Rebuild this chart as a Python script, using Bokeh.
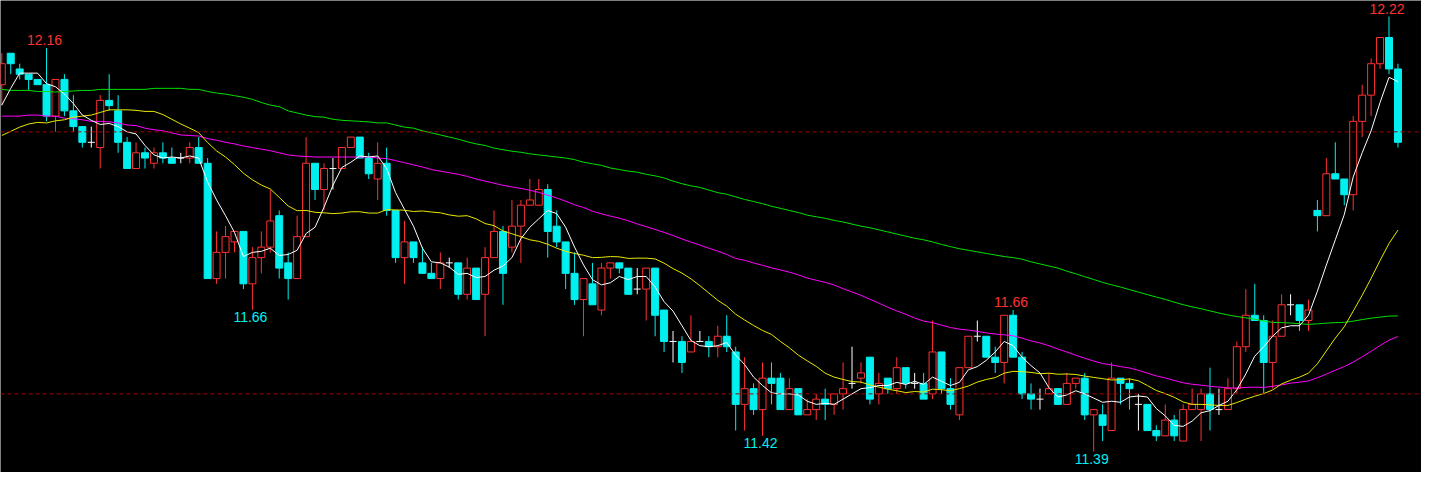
import numpy as np
from bokeh.plotting import figure
from bokeh.models import Range1d, Span
from bokeh.embed import file_html
from bokeh.resources import INLINE
from bokeh.core.properties import value

# ---- daily candles ----
opens = [
    12.09, 12.15, 12.12, 12.11, 12.10, 12.09, 12.03, 12.10, 12.04, 12.01,
    11.98, 11.97, 12.06, 12.04, 11.98, 11.93, 11.96, 11.94, 11.96, 11.95,
    11.95, 11.95, 11.97, 11.94, 11.72, 11.77, 11.79, 11.81, 11.71, 11.76,
    11.78, 11.84, 11.75, 11.72, 11.80, 11.94, 11.89, 11.93, 11.93, 11.97,
    11.99, 11.95, 11.91, 11.94, 11.85, 11.76, 11.79, 11.75, 11.73, 11.72,
    11.75, 11.75, 11.69, 11.74, 11.69, 11.76, 11.81, 11.78, 11.82, 11.86,
    11.86, 11.89, 11.82, 11.79, 11.73, 11.68, 11.71, 11.66, 11.74, 11.75,
    11.74, 11.70, 11.70, 11.74, 11.66, 11.60, 11.60, 11.58, 11.60, 11.60,
    11.59, 11.61, 11.58, 11.48, 11.51, 11.47, 11.53, 11.53, 11.47, 11.51,
    11.46, 11.47, 11.49, 11.48, 11.50, 11.52, 11.53, 11.57, 11.50, 11.53,
    11.51, 11.55, 11.52, 11.52, 11.50, 11.58, 11.51, 11.46, 11.55, 11.61,
    11.61, 11.57, 11.56, 11.65, 11.57, 11.50, 11.49, 11.50, 11.51, 11.48,
    11.52, 11.53, 11.46, 11.46, 11.43, 11.53, 11.52, 11.48, 11.48, 11.43,
    11.42, 11.45, 11.41, 11.47, 11.47, 11.50, 11.47, 11.47, 11.51, 11.59,
    11.65, 11.64, 11.56, 11.61, 11.67, 11.67, 11.64, 11.85, 11.84, 11.92,
    11.91, 11.88, 12.02, 12.07, 12.13, 12.18, 12.12]
highs = [
    12.15, 12.15, 12.13, 12.11, 12.10, 12.16, 12.10, 12.11, 12.07, 12.01,
    12.01, 12.07, 12.11, 12.07, 11.99, 11.98, 11.97, 11.97, 11.98, 11.97,
    11.96, 11.98, 11.99, 11.95, 11.81, 11.82, 11.81, 11.81, 11.78, 11.81,
    11.89, 11.85, 11.77, 11.84, 11.99, 11.94, 11.94, 11.95, 11.97, 11.99,
    11.99, 11.96, 11.98, 11.97, 11.85, 11.83, 11.79, 11.78, 11.75, 11.77,
    11.76, 11.75, 11.76, 11.74, 11.78, 11.85, 11.82, 11.87, 11.87, 11.91,
    11.91, 11.90, 11.85, 11.79, 11.77, 11.72, 11.75, 11.75, 11.75, 11.75,
    11.74, 11.74, 11.74, 11.74, 11.66, 11.62, 11.61, 11.65, 11.62, 11.61,
    11.63, 11.65, 11.59, 11.57, 11.52, 11.56, 11.56, 11.54, 11.53, 11.51,
    11.49, 11.50, 11.51, 11.50, 11.56, 11.59, 11.56, 11.57, 11.54, 11.53,
    11.57, 11.55, 11.54, 11.54, 11.64, 11.58, 11.53, 11.55, 11.61, 11.64,
    11.61, 11.59, 11.65, 11.66, 11.58, 11.52, 11.51, 11.54, 11.51, 11.54,
    11.53, 11.54, 11.47, 11.48, 11.56, 11.53, 11.53, 11.50, 11.48, 11.44,
    11.48, 11.46, 11.48, 11.51, 11.51, 11.55, 11.51, 11.53, 11.60, 11.70,
    11.71, 11.65, 11.64, 11.69, 11.69, 11.67, 11.68, 11.87, 11.95, 11.98,
    11.91, 12.03, 12.09, 12.14, 12.18, 12.22, 12.13]
lows = [
    12.05, 12.11, 12.10, 12.08, 12.09, 12.02, 12.00, 12.03, 12.00, 11.97,
    11.97, 11.93, 12.04, 11.96, 11.93, 11.93, 11.93, 11.93, 11.94, 11.94,
    11.94, 11.94, 11.94, 11.72, 11.71, 11.72, 11.77, 11.70, 11.66, 11.73,
    11.77, 11.72, 11.68, 11.72, 11.80, 11.87, 11.85, 11.89, 11.93, 11.97,
    11.95, 11.91, 11.87, 11.84, 11.75, 11.71, 11.75, 11.73, 11.72, 11.70,
    11.74, 11.68, 11.68, 11.68, 11.61, 11.76, 11.67, 11.77, 11.75, 11.86,
    11.86, 11.76, 11.78, 11.70, 11.67, 11.61, 11.67, 11.65, 11.72, 11.73,
    11.69, 11.69, 11.64, 11.61, 11.58, 11.56, 11.54, 11.58, 11.60, 11.57,
    11.57, 11.58, 11.43, 11.43, 11.46, 11.42, 11.48, 11.47, 11.47, 11.46,
    11.46, 11.45, 11.45, 11.46, 11.47, 11.51, 11.52, 11.48, 11.48, 11.50,
    11.50, 11.51, 11.51, 11.49, 11.49, 11.50, 11.47, 11.45, 11.55, 11.60,
    11.57, 11.54, 11.52, 11.57, 11.49, 11.47, 11.47, 11.50, 11.48, 11.48,
    11.51, 11.45, 11.39, 11.41, 11.43, 11.48, 11.47, 11.43, 11.43, 11.41,
    11.42, 11.41, 11.41, 11.47, 11.41, 11.43, 11.46, 11.47, 11.50, 11.58,
    11.64, 11.50, 11.51, 11.61, 11.65, 11.62, 11.62, 11.81, 11.84, 11.91,
    11.86, 11.85, 11.99, 12.03, 12.12, 12.11, 11.97]
closes = [
    12.13, 12.13, 12.11, 12.10, 12.09, 12.03, 12.10, 12.04, 12.01, 11.98,
    11.98, 12.06, 12.05, 11.98, 11.93, 11.96, 11.95, 11.96, 11.95, 11.94,
    11.95, 11.97, 11.94, 11.72, 11.77, 11.80, 11.81, 11.71, 11.76, 11.78,
    11.83, 11.74, 11.72, 11.80, 11.94, 11.89, 11.93, 11.93, 11.97, 11.99,
    11.95, 11.92, 11.94, 11.85, 11.76, 11.79, 11.76, 11.73, 11.72, 11.75,
    11.75, 11.69, 11.74, 11.68, 11.76, 11.81, 11.73, 11.82, 11.86, 11.87,
    11.89, 11.81, 11.79, 11.73, 11.68, 11.72, 11.67, 11.74, 11.75, 11.74,
    11.69, 11.70, 11.74, 11.65, 11.60, 11.60, 11.56, 11.60, 11.60, 11.59,
    11.61, 11.59, 11.48, 11.51, 11.47, 11.53, 11.52, 11.47, 11.51, 11.46,
    11.47, 11.49, 11.48, 11.50, 11.51, 11.52, 11.54, 11.49, 11.52, 11.51,
    11.55, 11.52, 11.52, 11.49, 11.58, 11.51, 11.48, 11.55, 11.61, 11.61,
    11.57, 11.56, 11.65, 11.57, 11.50, 11.49, 11.49, 11.51, 11.48, 11.52,
    11.53, 11.46, 11.47, 11.44, 11.53, 11.52, 11.51, 11.48, 11.43, 11.42,
    11.45, 11.42, 11.47, 11.48, 11.50, 11.47, 11.47, 11.51, 11.59, 11.65,
    11.64, 11.56, 11.61, 11.67, 11.67, 11.64, 11.66, 11.84, 11.92, 11.91,
    11.88, 12.02, 12.07, 12.13, 12.18, 12.12, 11.98]

# ---- moving-average values at the left edge (history before the window) ----
ma5_head = [12.051, 12.083, 12.112, 12.112]
ma20_head = [11.993, 12.001, 12.009, 12.015, 12.018, 12.017, 12.021, 12.023, 12.028, 12.030,
             12.032, 12.037, 12.042, 12.042, 12.042, 12.041, 12.039, 12.039, 12.033]
ma60_head = [
    12.030, 12.030, 12.030, 12.032, 12.032, 12.030, 12.030, 12.026, 12.025, 12.023,
    12.020, 12.020, 12.019, 12.017, 12.013, 12.012, 12.007, 12.004, 12.002, 11.998,
    11.994, 11.993, 11.992, 11.987, 11.984, 11.980, 11.977, 11.973, 11.970, 11.967,
    11.964, 11.960, 11.956, 11.954, 11.953, 11.952, 11.952, 11.952, 11.952, 11.952,
    11.952, 11.952, 11.950, 11.949, 11.945, 11.941, 11.937, 11.933, 11.928, 11.925,
    11.922, 11.919, 11.915, 11.910, 11.906, 11.902, 11.898, 11.895, 11.892]
ma120_head = [
    12.081, 12.079, 12.079, 12.079, 12.077, 12.077, 12.076, 12.077, 12.078, 12.079,
    12.079, 12.081, 12.081, 12.081, 12.081, 12.081, 12.081, 12.083, 12.083, 12.083,
    12.083, 12.081, 12.081, 12.077, 12.074, 12.072, 12.069, 12.066, 12.062, 12.056,
    12.051, 12.048, 12.040, 12.036, 12.032, 12.029, 12.028, 12.024, 12.022, 12.021,
    12.020, 12.019, 12.017, 12.017, 12.013, 12.009, 12.007, 12.002, 11.998, 11.994,
    11.990, 11.986, 11.981, 11.977, 11.974, 11.969, 11.966, 11.963, 11.961, 11.958,
    11.956, 11.954, 11.952, 11.950, 11.947, 11.942, 11.939, 11.936, 11.931, 11.928,
    11.925, 11.923, 11.919, 11.916, 11.912, 11.906, 11.901, 11.897, 11.894, 11.889,
    11.884, 11.881, 11.876, 11.871, 11.867, 11.863, 11.858, 11.854, 11.850, 11.846,
    11.841, 11.838, 11.835, 11.831, 11.828, 11.824, 11.820, 11.817, 11.813, 11.809,
    11.805, 11.801, 11.797, 11.794, 11.790, 11.785, 11.781, 11.777, 11.774, 11.771,
    11.768, 11.765, 11.762, 11.760, 11.757, 11.752, 11.748, 11.744, 11.740]

ref_levels = [12.00, 11.50]
high_marks = [5, 113, 155]
low_marks = [28, 85, 122]

UP = "#FF3232"
DOWN = "#00F0F0"
DOJI = "#FFFFFF"
MA_COLORS = {5: "#FFFFFF", 20: "#E8E800", 60: "#FF00FF", 120: "#00E000"}

n = len(closes)
assert len(opens) == n and len(highs) == n and len(lows) == n
x = np.arange(n, dtype=float)
o = np.array(opens); h = np.array(highs); l = np.array(lows); c = np.array(closes)
top = np.maximum(o, c)
bot = np.minimum(o, c)
up = c > o
dn = c < o
dj = c == o


def moving_avg(head, period):
    assert len(head) == period - 1
    out = list(head)
    for i in range(len(head), n):
        out.append(float(np.mean(c[i - period + 1:i + 1])))
    return out

p = figure(width=1421, height=472, output_backend="svg", toolbar_location=None,
           x_range=Range1d(-0.144, 158.63), y_range=Range1d(11.350, 12.2506),
           x_axis_location=None, y_axis_location=None,
           background_fill_color="black", border_fill_color="black",
           min_border=0, outline_line_color=None)
p.grid.visible = False

for lv in ref_levels:
    p.add_layout(Span(location=lv, dimension="width", line_color="#A00000",
                      line_width=1, line_dash="4 3"))

BW = 0.78
colors = np.where(up, UP, np.where(dn, DOWN, DOJI)).tolist()
# wicks
p.segment(x0=x, y0=h, x1=x, y1=top, line_color=colors, line_width=1)
p.segment(x0=x, y0=bot, x1=x, y1=l, line_color=colors, line_width=1)
# bodies
p.vbar(x=x[dn], width=BW, top=top[dn], bottom=bot[dn], fill_color=DOWN, line_color=DOWN, line_width=1)
p.vbar(x=x[up], width=BW, top=top[up], bottom=bot[up], fill_color="black", line_color=UP, line_width=1)
p.segment(x0=x[dj] - BW / 2, y0=c[dj], x1=x[dj] + BW / 2, y1=c[dj], line_color=DOJI, line_width=1)

for period, head in ((120, ma120_head), (60, ma60_head), (20, ma20_head), (5, ma5_head)):
    p.line(x, moving_avg(head, period), line_color=MA_COLORS[period], line_width=1)

font = value("Liberation Sans")
p.text(x=[x[i] for i in high_marks], y=[h[i] for i in high_marks],
       text=[f"{h[i]:.2f}" for i in high_marks], text_align="center", text_baseline="bottom",
       x_offset=-2, y_offset=-3, text_color=UP, text_font=font, text_font_size="14px")
p.text(x=[x[i] for i in low_marks], y=[l[i] for i in low_marks],
       text=[f"{l[i]:.2f}" for i in low_marks], text_align="center", text_baseline="top",
       x_offset=-2, y_offset=2, text_color=DOWN, text_font=font, text_font_size="14px")

open("out.html", "w").write(file_html(p, INLINE))
